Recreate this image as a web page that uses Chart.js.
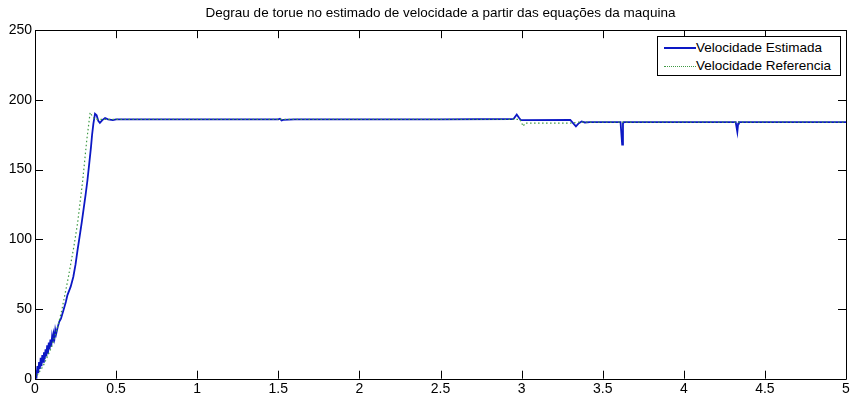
<!DOCTYPE html>
<html>
<head>
<meta charset="utf-8">
<script src="https://cdn.jsdelivr.net/npm/chart.js@4.4.0/dist/chart.umd.min.js"></script>
<style>
  html, body { margin: 0; padding: 0; background: #fff; }
  #wrap { position: relative; width: 852px; height: 396px; }
  #legend {
    position: absolute; left: 657px; top: 36px; width: 182px; height: 38px;
    border: 1px solid #000; background: #fff;
    font-family: 'Liberation Sans', Arial, sans-serif; font-size: 13.5px; color: #000;
  }
  .lg-row { position: absolute; left: 6px; height: 16px; line-height: 16px; display: flex; align-items: center; }
  .lg-line { width: 32px; height: 0; margin-right: 0; }
</style>
</head>
<body>
<div id="wrap">
  <canvas id="c" width="852" height="396"></canvas>
  <div id="legend">
    <div class="lg-row" style="top:3px"><span class="lg-line" style="border-top:2px solid #0c18c4"></span>Velocidade Estimada</div>
    <div class="lg-row" style="top:21px"><span class="lg-line" style="border-top:1px dotted #3f9a45"></span>Velocidade Referencia</div>
  </div>
</div>
<script>
// ── data ──
const titulo = 'Degrau de torue no estimado de velocidade a partir das equações da maquina';
const xTicks = [0, 0.5, 1, 1.5, 2, 2.5, 3, 3.5, 4, 4.5, 5];
const yTicks = [0, 50, 100, 150, 200, 250];

// Velocidade Estimada (t, rad/s)
const estT = [0, 0.005, 0.01, 0.015, 0.02, 0.025, 0.03, 0.035, 0.04, 0.045, 0.05, 0.055, 0.06, 0.065, 0.07,
  0.075, 0.08, 0.085, 0.09, 0.095, 0.1, 0.105, 0.11, 0.115, 0.12, 0.125, 0.13, 0.14, 0.15, 0.16, 0.175,
  0.19, 0.2, 0.22, 0.236, 0.25, 0.262, 0.275, 0.288, 0.3, 0.312, 0.323, 0.335, 0.345, 0.352, 0.36, 0.37,
  0.38, 0.39, 0.40, 0.415, 0.432, 0.45, 0.48, 0.5, 1.0, 1.5, 1.51, 1.52, 1.53, 1.6, 2.5, 2.95, 2.97,
  2.985, 2.995, 3.3, 3.32, 3.335, 3.35, 3.37, 3.39, 3.42, 3.61, 3.615, 3.62, 3.625, 3.63, 4.32, 4.33,
  4.335, 4.34, 5];
const estV = [0, 6, 2, 9, 4, 12, 7, 15, 9, 17, 12, 19, 14, 21, 16,
  24, 18, 26, 21, 28, 23, 30, 26, 32, 29, 35, 32, 37, 41, 43, 49,
  55, 60, 66, 73, 82, 92, 102, 112, 122, 132, 142, 155, 166, 175, 183, 190,
  189, 185, 183.5, 185.5, 187, 186, 185.5, 186, 186, 186, 186.5, 185.3, 185.7, 186, 186, 186.3, 189.5,
  187, 185.5, 185.7, 183, 181, 183, 184.5, 183.8, 184, 184, 176, 168, 183, 184, 184, 177,
  183, 184, 184];

// Velocidade Referencia
const refT = [0, 0.05, 0.1, 0.135, 0.165, 0.206, 0.24, 0.263, 0.294, 0.319, 0.34, 0.355, 0.37,
  2.99, 3.0, 3.01, 3.02, 3.3, 3.35, 5];
const refV = [0, 9, 22, 35, 49, 73, 95, 112, 142, 171, 191, 188, 186,
  186, 183.5, 181, 183.3, 183.3, 184, 184];

const toPts = (ts, vs) => ts.map((t, i) => ({ x: t, y: vs[i] }));

// MATLAB style box with inward ticks
const boxPlugin = {
  id: 'box',
  afterDraw(chart) {
    const { ctx, chartArea: a, scales } = chart;
    ctx.save();
    ctx.strokeStyle = '#000';
    ctx.lineWidth = 1;
    ctx.beginPath();
    ctx.rect(Math.round(a.left) + 0.5, Math.round(a.top) + 0.5, Math.round(a.right - a.left), Math.round(a.bottom - a.top));
    const L = 8;
    xTicks.forEach(v => {
      const px = Math.round(scales.x.getPixelForValue(v)) + 0.5;
      ctx.moveTo(px, a.bottom); ctx.lineTo(px, a.bottom - L);
      ctx.moveTo(px, a.top); ctx.lineTo(px, a.top + L);
    });
    yTicks.forEach(v => {
      const py = Math.round(scales.y.getPixelForValue(v)) + 0.5;
      ctx.moveTo(a.left, py); ctx.lineTo(a.left + L, py);
      ctx.moveTo(a.right, py); ctx.lineTo(a.right - L, py);
    });
    ctx.stroke();
    ctx.restore();
  }
};

const tickFont = { family: "'Liberation Sans', Arial, sans-serif", size: 14 };

new Chart(document.getElementById('c'), {
  type: 'line',
  data: {
    datasets: [
      {
        label: 'Velocidade Referencia',
        data: toPts(refT, refV),
        borderColor: '#3f9a45',
        borderWidth: 1.2,
        borderDash: [1.5, 2.5],
        pointRadius: 0,
        tension: 0,
      },
      {
        label: 'Velocidade Estimada',
        data: toPts(estT, estV),
        borderColor: '#0c18c4',
        borderWidth: 1.8,
        pointRadius: 0,
        tension: 0,
      },
    ],
  },
  options: {
    responsive: false,
    animation: false,
    layout: { padding: { top: 0, right: 6, left: 0, bottom: 0 } },
    plugins: {
      legend: { display: false },
      tooltip: { enabled: false },
      title: {
        display: true,
        fullSize: false,
        text: titulo,
        color: '#000',
        font: { family: "'Liberation Sans', Arial, sans-serif", size: 13.5, weight: 'normal' },
        padding: { top: 5, bottom: 9 },
      },
    },
    scales: {
      x: {
        type: 'linear', min: 0, max: 5,
        afterBuildTicks: s => { s.ticks = xTicks.map(v => ({ value: v })); },
        afterFit: s => { s.height = 17.3; },
        grid: { display: false, drawTicks: false },
        border: { display: false },
        ticks: { color: '#000', font: tickFont, padding: 2, maxRotation: 0, callback: v => String(v) },
      },
      y: {
        min: 0, max: 250,
        afterBuildTicks: s => { s.ticks = yTicks.map(v => ({ value: v })); },
        afterFit: s => { s.width = 35; },
        grid: { display: false, drawTicks: false },
        border: { display: false },
        ticks: { color: '#000', font: tickFont, padding: 3, callback: v => String(v) },
      },
    },
  },
  plugins: [boxPlugin],
});
</script>
</body>
</html>
